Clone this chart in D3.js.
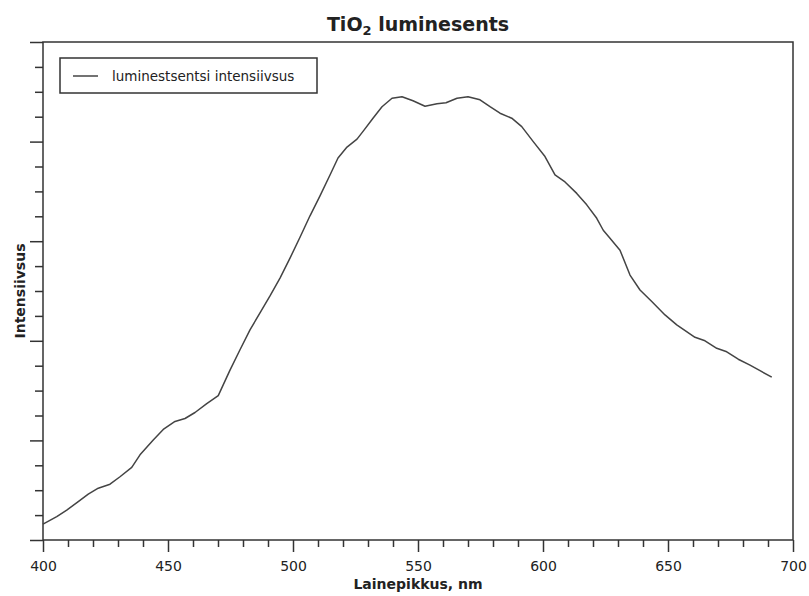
<!DOCTYPE html>
<html>
<head>
  <meta http-equiv="Content-Type" content="text/html; charset=UTF-8" />
  <title>TiO2 luminesents</title>
  <style>
    body {
      padding: 0;
      margin: 0;
      background: #fff;
    }
    text {
      font-family: "DejaVu Sans", Verdana, sans-serif;
      fill: #222;
    }
  </style>
</head>
<body>

<svg width="809" height="596"></svg>

<script src="https://d3js.org/d3.v7.min.js"></script>
<script>

// wavelength, nm
var wavelengths = [
  400, 405.5, 409.5, 414.1, 418.1, 422.1, 426.8, 430.8, 435.5, 438.8,
  444.1, 448.1, 452.8, 456.8, 460.8, 465.5, 470.1, 474.8, 478.8, 482.8,
  486.8, 490.8, 494.8, 498.8, 502.8, 506.8, 510.8, 514.8, 518, 521.6,
  525.6, 528.4, 532, 535.6, 539.6, 543.6, 548, 552.8, 557.6, 561.2,
  565.6, 570, 574.8, 578.8, 582.8, 587.5, 591.5, 596.1, 600.8, 604.8,
  608.8, 613.5, 617.5, 621.5, 624.1, 626.8, 630.8, 634.8, 638.8, 643.5,
  648.8, 653.5, 660.8, 664.8, 669.5, 673.5, 678.1, 682.8, 686.8, 691.5
]

// luminescence intensity, arbitrary units (no scale shown)
var intensity = [
  3.2, 4.7, 6.0, 7.7, 9.2, 10.4, 11.2, 12.7, 14.6, 17.1,
  20.1, 22.2, 23.8, 24.4, 25.6, 27.4, 29.0, 34.1, 38.2, 42.2,
  45.6, 49.0, 52.6, 56.6, 60.8, 65.1, 69.1, 73.3, 76.7, 78.9,
  80.5, 82.3, 84.7, 87.0, 88.7, 89.0, 88.2, 87.1, 87.6, 87.8,
  88.7, 89.0, 88.4, 87.0, 85.7, 84.7, 83.0, 80.0, 77.0, 73.3,
  71.9, 69.6, 67.3, 64.6, 62.2, 60.6, 58.2, 53.2, 50.2, 47.9,
  45.2, 43.2, 40.7, 40.0, 38.5, 37.8, 36.3, 35.1, 34.0, 32.7
]

var xTickValues = [400, 450, 500, 550, 600, 650, 700]

var titleMain = "TiO"
var titleSub = "2"
var titleRest = " luminesents"
var xTitle = "Lainepikkus, nm"
var yTitle = "Intensiivsus"
var legendLabel = "luminestsentsi intensiivsus"

var data = wavelengths.map((w, i) => ({ w: w, v: intensity[i] }))

var margin = { left: 43, right: 16, top: 42, bottom: 56 }
var width = 809, height = 596

var svg = d3.select("svg")

var x = d3.scaleLinear().domain([400, 700]).range([margin.left, width - margin.right])
var y = d3.scaleLinear().domain([0, 100]).range([height - margin.bottom, margin.top])

var axisColor = "#333"

// minor ticks
var xMinor = d3.range(400, 701, 10).filter(d => d % 50 !== 0)
var yMinor = d3.range(0, 101, 5).filter(d => d % 20 !== 0)

var xAxis = svg.append("g")
  .attr("transform", "translate(0," + y(0) + ")")
  .call(d3.axisBottom(x).tickValues(xTickValues).tickSize(12).tickPadding(9).tickSizeOuter(0))

xAxis.selectAll(".tick").filter(d => false)

svg.append("g")
  .attr("transform", "translate(0," + y(0) + ")")
  .call(d3.axisBottom(x).tickValues(xMinor).tickSize(7).tickFormat("").tickSizeOuter(0))
  .select(".domain").remove()

svg.append("g")
  .attr("transform", "translate(" + x(400) + ",0)")
  .call(d3.axisLeft(y).tickValues(d3.range(0, 101, 20)).tickSize(13).tickFormat("").tickSizeOuter(0))
  .select(".domain").remove()

svg.append("g")
  .attr("transform", "translate(" + x(400) + ",0)")
  .call(d3.axisLeft(y).tickValues(yMinor).tickSize(8).tickFormat("").tickSizeOuter(0))
  .select(".domain").remove()

xAxis.select(".domain").remove()

svg.selectAll("g .tick line")
  .attr("stroke", axisColor)
  .attr("stroke-width", 1.5)

xAxis.selectAll(".tick text")
  .style("font-family", "\"DejaVu Sans\", Verdana, sans-serif")
  .style("font-size", "14px")
  .attr("fill", "#333")

// frame
svg.append("rect")
  .attr("x", x(400))
  .attr("y", y(100))
  .attr("width", x(700) - x(400))
  .attr("height", y(0) - y(100))
  .attr("fill", "none")
  .attr("stroke", axisColor)
  .attr("stroke-width", 1.5)

// curve
var line = d3.line()
  .x(d => x(d.w))
  .y(d => y(d.v))

svg.append("path")
  .datum(data)
  .attr("d", line)
  .attr("fill", "none")
  .attr("stroke", "#444")
  .attr("stroke-width", 1.5)
  .attr("stroke-linejoin", "round")

// title
var title = svg.append("text")
  .attr("x", (x(400) + x(700)) / 2)
  .attr("y", 31)
  .attr("text-anchor", "middle")
  .style("font-size", "19px")
  .style("font-weight", "bold")

title.append("tspan").text(titleMain)
title.append("tspan").text(titleSub).attr("dy", 4).style("font-size", "13px")
title.append("tspan").text(titleRest).attr("dy", -4)

// axis titles
svg.append("text")
  .attr("x", (x(400) + x(700)) / 2)
  .attr("y", 589)
  .attr("text-anchor", "middle")
  .style("font-size", "14px")
  .style("font-weight", "bold")
  .text(xTitle)

svg.append("text")
  .attr("transform", "translate(25," + ((y(0) + y(100)) / 2) + ") rotate(-90)")
  .attr("text-anchor", "middle")
  .style("font-size", "14px")
  .style("font-weight", "bold")
  .text(yTitle)

// legend
var legend = svg.append("g")

legend.append("rect")
  .attr("x", 60)
  .attr("y", 58)
  .attr("width", 257)
  .attr("height", 35)
  .attr("fill", "#fff")
  .attr("stroke", axisColor)
  .attr("stroke-width", 1.5)

legend.append("line")
  .attr("x1", 73)
  .attr("x2", 98)
  .attr("y1", 76)
  .attr("y2", 76)
  .attr("stroke", "#444")
  .attr("stroke-width", 1.5)

legend.append("text")
  .attr("x", 112)
  .attr("y", 81)
  .style("font-size", "13.5px")
  .text(legendLabel)

</script>
</body>
</html>
